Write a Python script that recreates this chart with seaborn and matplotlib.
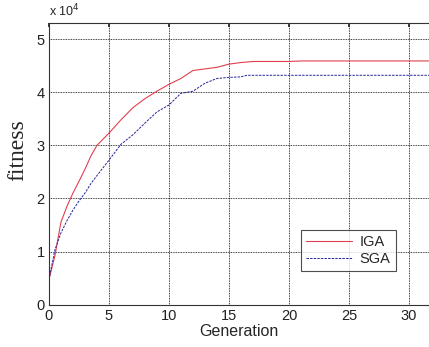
"""
Fitness convergence of IGA vs SGA over generations.
"""

import pandas as pd
import matplotlib
matplotlib.use("Agg")
import matplotlib.pyplot as plt
import seaborn as sns

# Data (fitness in units of 1e4)
generation = [0, 0.5, 1, 1.5, 2, 2.5, 3, 3.5, 4, 5, 6, 7, 8, 9, 10, 11, 12, 13,
              14, 15, 16, 16.5, 17, 18, 19, 20, 21, 22, 24, 26, 28, 30, 32]
iga_fitness = [0.47, 0.92, 1.55, 1.85, 2.10, 2.32, 2.55, 2.80, 3.00, 3.23, 3.48,
               3.71, 3.88, 4.02, 4.15, 4.26, 4.41, 4.44, 4.47, 4.53, 4.56, 4.57,
               4.58, 4.58, 4.58, 4.58, 4.59, 4.59, 4.59, 4.59, 4.59, 4.59, 4.59]
sga_fitness = [0.47, 1.03, 1.35, 1.58, 1.78, 1.95, 2.10, 2.28, 2.43, 2.72, 3.02,
               3.20, 3.42, 3.63, 3.76, 3.98, 4.02, 4.17, 4.26, 4.28, 4.29, 4.32,
               4.32, 4.32, 4.32, 4.32, 4.32, 4.32, 4.32, 4.32, 4.32, 4.32, 4.32]

x_ticks = [0, 5, 10, 15, 20, 25, 30]
y_ticks = [0, 1, 2, 3, 4, 5]

df = pd.DataFrame({"Generation": generation, "IGA": iga_fitness, "SGA": sga_fitness})

sns.set_theme(style="white")
plt.rcParams["font.family"] = ["Liberation Sans", "DejaVu Sans"]

fig = plt.figure(figsize=(4.29, 3.47), dpi=100)
ax = fig.add_axes([0.114, 0.122, 0.886, 0.811])

sns.lineplot(data=df, x="Generation", y="IGA", ax=ax, color="#e0404e",
             linewidth=0.8, label="IGA")
sns.lineplot(data=df, x="Generation", y="SGA", ax=ax, color="#24249a",
             linewidth=0.7, label="SGA", dashes=False)
ax.lines[1].set_linestyle((0, (2.5, 1.2)))

ax.set_xlim(0, 31.67)
ax.set_ylim(0, 5.3)
ax.set_xticks(x_ticks)
ax.set_yticks(y_ticks)
ax.grid(True, color="black", linestyle=(0, (1, 1)), linewidth=0.6)

ax.tick_params(direction="in", length=3, labelsize=10.5, colors="#222222",
               top=True, pad=3)
for side in ["left", "top", "bottom"]:
    ax.spines[side].set_color("#333333")
    ax.spines[side].set_linewidth(0.8)
ax.spines["right"].set_visible(False)

ax.set_xlabel("Generation", fontsize=11.5, labelpad=1)
ax.set_ylabel("fitness", fontsize=17, family=["Liberation Serif"],
              va="center", ha="center")
ax.yaxis.set_label_coords(-0.082, 0.55)
ax.text(0.0, 1.015, "x 10$^{4}$", transform=ax.transAxes, fontsize=9,
        ha="left", va="bottom")

leg = ax.legend(loc="lower left", bbox_to_anchor=(0.662, 0.12), fontsize=10.5,
                frameon=True, fancybox=False, handlelength=3.2,
                borderaxespad=0, borderpad=0.35, labelspacing=0.2,
                handletextpad=0.5)
leg.get_frame().set_edgecolor("#222222")
leg.get_frame().set_linewidth(0.8)

plt.savefig("out.png", dpi=100)
plt.close()
